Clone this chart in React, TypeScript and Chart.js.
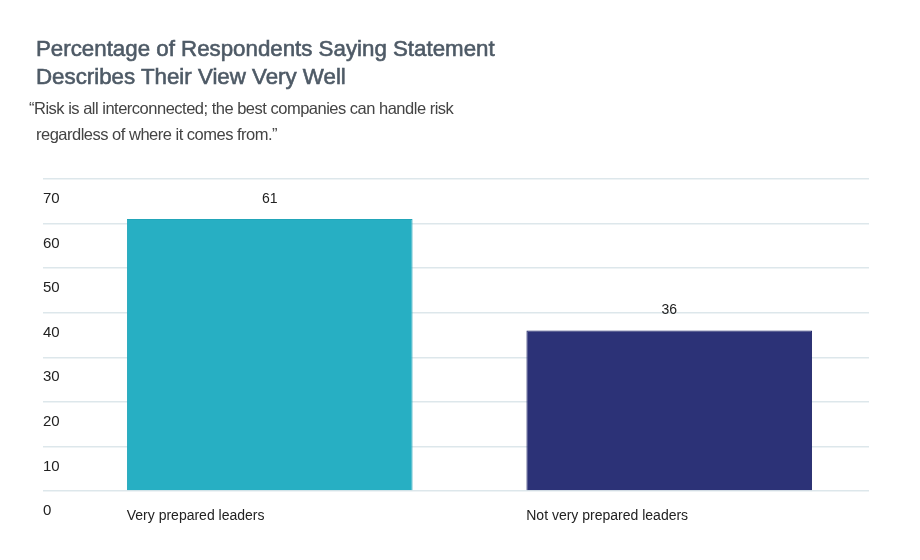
import React, { useEffect, useRef } from "react";
import { Chart, registerables } from "chart.js";

Chart.register(...registerables);

const titleLines = ["Percentage of Respondents Saying Statement", "Describes Their View Very Well"];
const subtitleLines = ["\u201CRisk is all interconnected; the best companies can handle risk", "regardless of where it comes from.\u201D"];
const categories = ["Very prepared leaders", "Not very prepared leaders"];
const values = [61, 36];
const barColors = ["#27AFC3", "#2C3277"];
const borderColors = ["#22A6B9", "#1F2568"];
const yMin = 0;
const yMax = 70;
const yStep = 10;

const valueLabels = {
  id: "valueLabels",
  afterDatasetsDraw(chart: any) {
    const ctx = chart.ctx;
    const meta = chart.getDatasetMeta(0);
    ctx.save();
    ctx.font = "14px 'Liberation Sans', Arial, sans-serif";
    ctx.fillStyle = "#222222";
    ctx.textAlign = "center";
    ctx.textBaseline = "middle";
    meta.data.forEach((el: any, i: number) => {
      ctx.fillText(String(chart.data.datasets[0].data[i]), el.x, el.y - 20);
    });
    ctx.restore();
  },
};

export default function App() {
  const ref = useRef<HTMLCanvasElement | null>(null);
  useEffect(() => {
    if (!ref.current) return;
    const chart = new Chart(ref.current, {
      type: "bar",
      data: {
        labels: categories,
        datasets: [
          {
            data: values,
            backgroundColor: barColors,
            borderColor: borderColors,
            borderWidth: 1,
            barPercentage: 0.715,
            categoryPercentage: 1,
          },
        ],
      },
      options: {
        animation: false,
        responsive: true,
        maintainAspectRatio: false,
        layout: { padding: { top: 179, left: 43, right: 51, bottom: 0 } },
        plugins: {
          legend: { display: false },
          tooltip: { enabled: false },
          title: { display: false },
        },
        scales: {
          x: {
            grid: { display: false, drawTicks: false },
            border: { display: false },
            ticks: {
              align: "start",
              labelOffset: -143,
              padding: 17,
              color: "#222222",
              font: { family: "'Liberation Sans', Arial, sans-serif", size: 14 },
              maxRotation: 0,
            },
            afterFit(scale: any) {
              scale.height = 69;
            },
          },
          y: {
            min: yMin,
            max: yMax,
            grid: { color: "#DDE7EB", lineWidth: 1.5, drawTicks: true, tickLength: 27, tickColor: "#DDE7EB" },
            border: { display: false },
            ticks: {
              stepSize: yStep,
              crossAlign: "far",
              labelOffset: 20,
              color: "#222222",
              font: { family: "'Liberation Sans', Arial, sans-serif", size: 15 },
            },
            afterFit(scale: any) {
              scale.width = 27;
            },
          },
        },
      },
      plugins: [valueLabels],
    });
    return () => chart.destroy();
  }, []);

  return (
    <div style={{ position: "absolute", left: 0, top: 0, width: 920, height: 560, background: "#fff", overflow: "hidden" }}>
      <div style={{ position: "absolute", left: 0, top: 0, width: 920, height: 560 }}>
        <canvas ref={ref} />
      </div>
      <div
        style={{
          position: "absolute",
          left: 36,
          top: 35,
          fontFamily: "'Liberation Sans', Arial, sans-serif",
          fontSize: 22.3,
          lineHeight: "28px",
          color: "#4E5A66",
          whiteSpace: "nowrap",
          WebkitTextStroke: "0.6px #4E5A66",
        }}
      >
        {titleLines.map((t, i) => (
          <div key={i}>{t}</div>
        ))}
      </div>
      <div
        style={{
          position: "absolute",
          left: 29,
          top: 95,
          fontFamily: "'Liberation Sans', Arial, sans-serif",
          fontSize: 16.5,
          letterSpacing: "-0.5px",
          lineHeight: "26px",
          color: "#444444",
          whiteSpace: "nowrap",
        }}
      >
        <div>{subtitleLines[0]}</div>
        <div style={{ paddingLeft: 7 }}>{subtitleLines[1]}</div>
      </div>
    </div>
  );
}
